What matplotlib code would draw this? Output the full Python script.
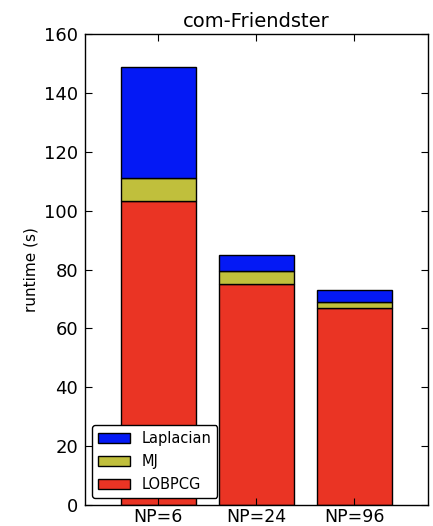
import matplotlib
matplotlib.use('Agg')
import matplotlib.pyplot as plt
import numpy as np

# runtime breakdown (seconds) per process count
labels = ['NP=6', 'NP=24', 'NP=96']
lobpcg = [103.3, 75.2, 66.8]
mj = [7.9, 4.3, 2.2]
laplacian = [37.6, 5.4, 4.0]

plt.rcParams['font.family'] = 'DejaVu Sans'

fig = plt.figure(figsize=(4.33, 5.26), dpi=100)
ax = fig.add_axes([0.196, 0.040, 0.792, 0.895])

x = np.arange(len(labels))
width = 0.76
lob = np.array(lobpcg)
mjv = np.array(mj)
lap = np.array(laplacian)

ax.bar(x, lob, width, color='#ea3424', edgecolor='black', linewidth=1, label='LOBPCG')
ax.bar(x, mjv, width, bottom=lob, color='#c0bf3c', edgecolor='black', linewidth=1, label='MJ')
ax.bar(x, lap, width, bottom=lob + mjv, color='#0419f5', edgecolor='black', linewidth=1, label='Laplacian')

ax.set_xlim(-0.75, 2.75)
ax.set_ylim(0, 160)
ax.set_xticks(x)
ax.set_xticklabels(labels, fontsize=12.5)
ax.set_yticks(range(0, 161, 20))
ax.tick_params(axis='y', labelsize=13, pad=5)
ax.tick_params(axis='x', pad=2)
ax.tick_params(direction='in', top=True, right=True, length=5, width=0.8)
ax.set_ylabel('runtime (s)', fontsize=11)
ax.set_title('com-Friendster', fontsize=14, pad=5)
for s in ax.spines.values():
    s.set_linewidth(1.0)

h, l = ax.get_legend_handles_labels()
leg = ax.legend(h[::-1], l[::-1], loc='lower left', fontsize=10.5, fancybox=True,
                framealpha=1, edgecolor='black', borderaxespad=0.5,
                handlelength=2.2, labelspacing=0.55)
leg.get_frame().set_linewidth(1.0)

plt.savefig('out.png', dpi=100)
